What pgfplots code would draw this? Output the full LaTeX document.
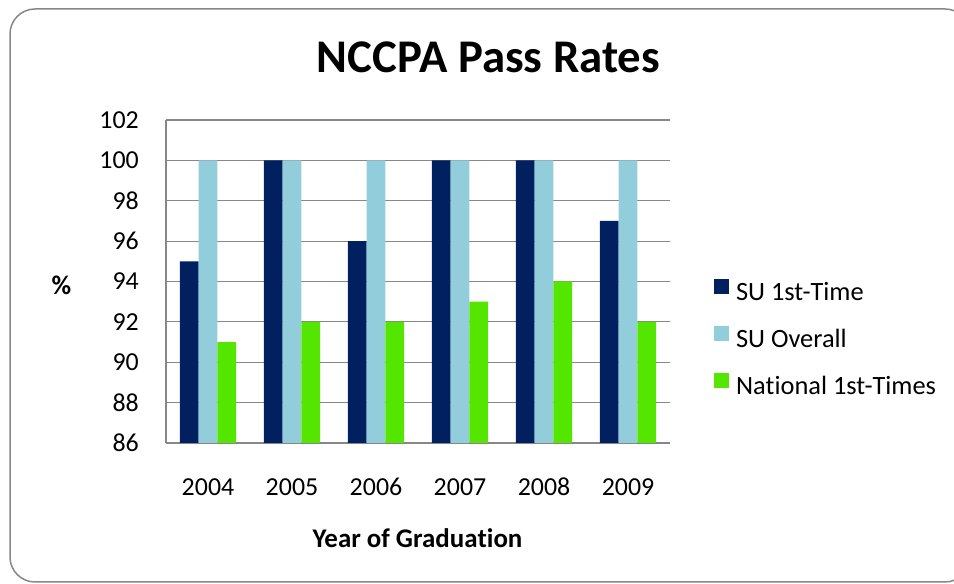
\documentclass[border=0pt]{standalone}
\usepackage{fontspec}
\setmainfont{Carlito}[Ligatures=NoCommon]
\usepackage{pgfplots}
\pgfplotsset{compat=1.18}
\definecolor{navy}{HTML}{002060}
\definecolor{lblue}{HTML}{92CDDC}
\definecolor{lgreen}{HTML}{55E600}
\definecolor{axgray}{HTML}{878787}
\begin{document}
\begin{tikzpicture}[x=1bp,y=1bp]
\path[use as bounding box] (0,0) rectangle (954,584);
\draw[axgray, line width=1.5bp, rounded corners=25bp] (10,2) rectangle (970,575);
\node[font=\fontsize{47}{56}\selectfont\bfseries] at (488.5,527) {NCCPA Pass Rates};
\node[font=\fontsize{27}{32}\selectfont\bfseries] at (61.5,299) {\%};
\node[font=\fontsize{27}{32}\selectfont\bfseries] at (417.5,46) {Year of Gradua\kern0pt tion};
\begin{axis}[
  at={(166bp,141bp)}, anchor=south west,
  scale only axis, width=504bp, height=323bp,
  ybar=0pt, bar width=18.7bp,
  xmin=-0.5, xmax=5.5, ymin=86, ymax=102,
  xtick=data, xticklabels={2004,2005,2006,2007,2008,2009},
  ytick={86,88,...,102},
  /pgf/number format/assume math mode=true,
  major tick length=0pt,
  tick style={draw=none},
  ymajorgrids, grid style={axgray, line width=1.2bp},
  axis line style={axgray, line width=1.5bp},
  axis x line*=bottom, axis y line*=left,
  tick label style={font=\fontsize{26}{31}\selectfont, text=black},
  yticklabel style={inner sep=0pt, anchor=east, xshift=-27bp},
  xticklabel style={inner sep=0pt, anchor=base, yshift=-53bp},
  legend style={draw=none, fill=none, inner sep=0pt, outer sep=0pt,
    at={(1.0873,0.319)}, anchor=west,
    font=\fontsize{26.5}{31}\selectfont,
    nodes={inner sep=0pt, text height=18bp, text depth=6bp},
    row sep=20bp, column sep=0bp},
  legend cell align=left,
  legend image code/.code={\path[#1,draw=none] (0bp,0bp) rectangle (15bp,15bp); \path (22bp,0bp);},
]
\addplot[fill=navy, draw=none] coordinates {(0,95) (1,100) (2,96) (3,100) (4,100) (5,97)};
\addplot[fill=lblue, draw=none] coordinates {(0,100) (1,100) (2,100) (3,100) (4,100) (5,100)};
\addplot[fill=lgreen, draw=none] coordinates {(0,91) (1,92) (2,92) (3,93) (4,94) (5,92)};
\legend{SU 1st-Time, SU Overall, Na\kern0pt tional 1st-Times}
\end{axis}
\end{tikzpicture}
\end{document}
